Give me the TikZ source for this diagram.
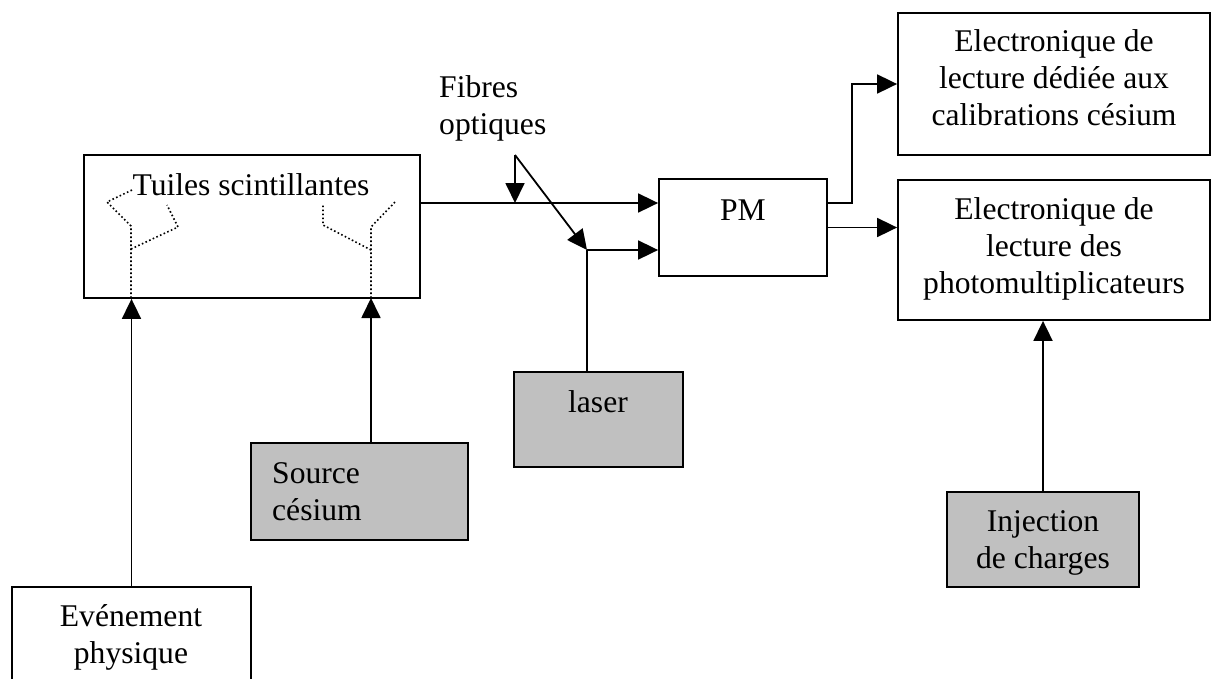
\documentclass[tikz,border=0pt]{standalone}
\usepackage{fontspec}
\setmainfont{Liberation Serif}
\usetikzlibrary{arrows.meta}
\definecolor{boxgray}{RGB}{192,192,192}

\begin{document}
\begin{tikzpicture}[x=1pt,y=-1pt,
  box/.style={draw, line width=1.8pt, inner sep=0pt},
  greybox/.style={box, fill=boxgray},
  txt/.style={font=\fontsize{31.6}{37}\selectfont, inner sep=0pt},
  lin/.style={line width=1.8pt},
  arr/.style={line width=1.8pt, -{Triangle[length=20pt,width=19pt]}},
  fib/.style={line width=1.6pt, dash pattern=on 1.6pt off 2.4pt}]

\clip (0,0) rectangle (1212,678);

% boites
\node[box, minimum width=336, minimum height=143] (tuiles) at (252,226.5) {};
\node[box, minimum width=168, minimum height=97] (pm) at (743,227.5) {};
\node[box, minimum width=312, minimum height=142] (elec1) at (1054,84) {};
\node[box, minimum width=312, minimum height=140] (elec2) at (1054,250) {};
\node[greybox, minimum width=169, minimum height=95] (laser) at (598.5,419.5) {};
\node[greybox, minimum width=217, minimum height=97] (source) at (359.5,491.5) {};
\node[greybox, minimum width=192, minimum height=95] (inj) at (1043,539.5) {};
\node[box, minimum width=239, minimum height=113] (evt) at (131.5,643.5) {};

% fibres dans les tuiles
\draw[fib] (131,298) -- (131,226) -- (107,202) -- (132,190);
\draw[fib] (131,249) -- (178,227) -- (167,205);
\draw[fib] (371,298) -- (371,227) -- (395,202);
\draw[fib] (371,250) -- (323,225) -- (323,205);

\coordinate (fibR) at (371,298);
\coordinate (fibtop) at (515,155);
\coordinate (fibjoin) at (515,203);
\coordinate (lasbend) at (587,250);

% liaisons
\draw[arr] (evt.north) -- (evt.north |- tuiles.south);
\draw[arr] (source.north -| fibR) -- (fibR);
\draw[arr] ([yshift=23.5]tuiles.east) -- ([yshift=23.5]tuiles.east -| pm.west);
\draw[arr] (fibtop) -- (fibjoin);
\draw[arr] (fibtop) -- (lasbend);
\draw[lin] (laser.north -| lasbend) -- (lasbend);
\draw[arr] (lasbend) -- (lasbend -| pm.west);
\draw[arr] ([yshift=24.5]pm.east) -- ++(24,0) |- (elec1.west);
\draw[arr] (pm.east) -- (pm.east -| elec2.west);
\draw[arr] (inj.north) -- (inj.north |- elec2.south);

% textes (ancre sur la derniere ligne)
\node[txt, anchor=base] (tuilestxt) at (251,195) {Tuiles scintillantes};
\node[txt, anchor=base west, align=left] (fibtxt) at (439,134) {Fibres\\optiques};
\node[txt, anchor=base] (pmtxt) at (743,220) {PM};
\node[txt, anchor=base] (lasertxt) at (598,412) {laser};
\node[txt, anchor=base west, align=left] (sourcetxt) at (272,520) {Source\\césium};
\node[txt, anchor=base, align=center] (evttxt) at (131,663) {Evénement\\physique};
\node[txt, anchor=base, align=center] (elec1txt) at (1054,125) {Electronique de\\lecture dédiée aux\\calibrations césium};
\node[txt, anchor=base, align=center] (elec2txt) at (1054,293) {Electronique de\\lecture des\\photomultiplicateurs};
\node[txt, anchor=base, align=center] (injtxt) at (1043,568) {Injection\\de charges};
\end{tikzpicture}
\end{document}
